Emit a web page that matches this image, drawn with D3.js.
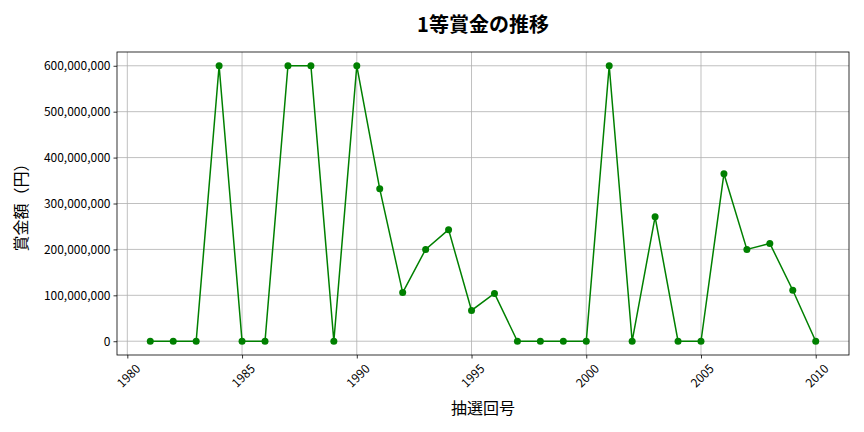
<!DOCTYPE html>
<html lang="ja">
<head>
<meta charset="utf-8">
<title>1等賞金の推移</title>
<script src="https://cdn.jsdelivr.net/npm/d3@7"></script>
<style>
  body { margin: 0; background: #fff; }
  text { font-family: "Noto Sans CJK JP", "DejaVu Sans", sans-serif; }
</style>
</head>
<body>
<svg id="svg" width="864" height="432"></svg>
<script>
// -- data
var years = [1981,1982,1983,1984,1985,1986,1987,1988,1989,1990,
             1991,1992,1993,1994,1995,1996,1997,1998,1999,2000,
             2001,2002,2003,2004,2005,2006,2007,2008,2009,2010];
var prizes = [0,0,0,600000000,0,0,600000000,600000000,0,600000000,
              332000000,106000000,200000000,243000000,67000000,104000000,0,0,0,0,
              600000000,0,271000000,0,0,365000000,200000000,213000000,111000000,0];
var xTicks = [1980,1985,1990,1995,2000,2005,2010];
var yTicks = [0,100000000,200000000,300000000,400000000,500000000,600000000];

var margin = {left: 117, right: 15, top: 52, bottom: 77};
var W = 864, H = 432;
var svg = d3.select("svg#svg");

var x = d3.scaleLinear().domain([1979.55, 2011.45]).range([margin.left, W - margin.right]);
var y = d3.scaleLinear().domain([-30000000, 630000000]).range([H - margin.bottom, margin.top]);

// grid
svg.append("g").selectAll("line").data(xTicks).enter().append("line")
    .attr("x1", d => x(d)).attr("x2", d => x(d))
    .attr("y1", margin.top).attr("y2", H - margin.bottom)
    .attr("stroke", "#b0b0b0").attr("stroke-width", 0.8);
svg.append("g").selectAll("line").data(yTicks).enter().append("line")
    .attr("y1", d => y(d)).attr("y2", d => y(d))
    .attr("x1", margin.left).attr("x2", W - margin.right)
    .attr("stroke", "#b0b0b0").attr("stroke-width", 0.8);

// axes
var xAxis = svg.append("g")
    .attr("transform", "translate(0," + (H - margin.bottom) + ")")
    .call(d3.axisBottom(x).tickValues(xTicks).tickFormat(d3.format("d")).tickSize(3.5).tickSizeOuter(0));
// rotated 45deg, bbox centred under the tick (matplotlib style)
xAxis.selectAll("text")
    .style("font-size", "12px")
    .attr("fill", "#000")
    .attr("text-anchor", "middle")
    .attr("dominant-baseline", "central")
    .attr("y", 0).attr("dy", 0)
    .attr("transform", "translate(0,20) rotate(-45)");

var yAxis = svg.append("g")
    .attr("transform", "translate(" + margin.left + ",0)")
    .call(d3.axisLeft(y).tickValues(yTicks).tickFormat(d3.format(",")).tickSize(3.5).tickSizeOuter(0));
yAxis.selectAll("text").style("font-size", "12px").attr("fill", "#000");

[xAxis, yAxis].forEach(function(a) {
    a.select(".domain").remove();
    a.selectAll(".tick line").attr("stroke", "#000").attr("stroke-width", 0.8);
});

// frame
svg.append("rect")
    .attr("x", margin.left).attr("y", margin.top)
    .attr("width", W - margin.left - margin.right)
    .attr("height", H - margin.top - margin.bottom)
    .attr("fill", "none").attr("stroke", "#000").attr("stroke-width", 0.8);

// line + markers
var line = d3.line().x((d, i) => x(years[i])).y(d => y(d));
svg.append("path").datum(prizes)
    .attr("d", line)
    .attr("fill", "none").attr("stroke", "green").attr("stroke-width", 1.5);
svg.append("g").selectAll("circle").data(prizes).enter().append("circle")
    .attr("cx", (d, i) => x(years[i])).attr("cy", d => y(d))
    .attr("r", 3.5).attr("fill", "green");

// titles
svg.append("text").attr("x", (margin.left + W - margin.right) / 2).attr("y", 32)
    .attr("text-anchor", "middle").style("font-size", "20px").style("font-weight", "bold")
    .text("1等賞金の推移");
svg.append("text").attr("x", (margin.left + W - margin.right) / 2).attr("y", 414)
    .attr("text-anchor", "middle").style("font-size", "16px")
    .text("抽選回号");
svg.append("text")
    .attr("transform", "translate(20," + ((margin.top + H - margin.bottom) / 2) + ") rotate(-90)")
    .attr("text-anchor", "middle").attr("dominant-baseline", "central").style("font-size", "16px")
    .text("賞金額（円）");
</script>
</body>
</html>
